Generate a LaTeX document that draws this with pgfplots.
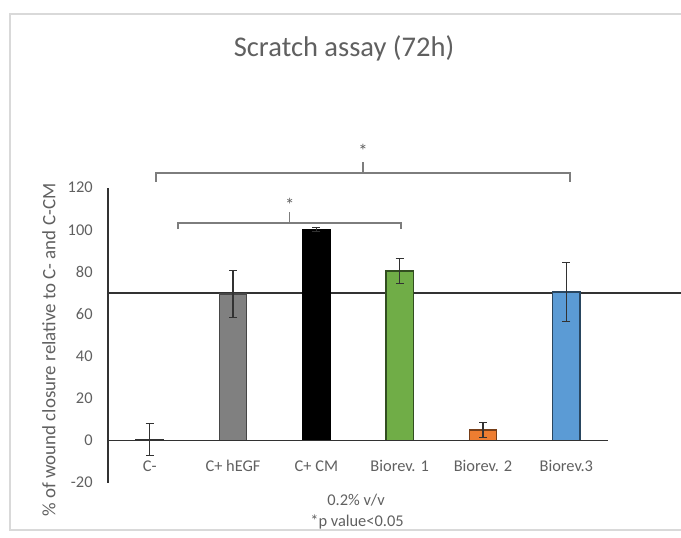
\documentclass[border=0pt]{standalone}
\usepackage{pgfplots}
\pgfplotsset{compat=1.18}
\usepackage{fontspec}
\setmainfont{Carlito}

\definecolor{txt}{RGB}{96,96,96}
\definecolor{frame}{RGB}{217,217,217}
\definecolor{axln}{RGB}{50,50,50}
\definecolor{brk}{RGB}{125,125,125}
\definecolor{cgray}{RGB}{128,128,128}
\definecolor{cgreen}{RGB}{112,173,71}
\definecolor{corange}{RGB}{237,125,49}
\definecolor{cblue}{RGB}{91,155,213}

\begin{document}
\begin{tikzpicture}[x=0.75pt,y=0.75pt]
\useasboundingbox (0,0) rectangle (681,538);
% chart frame
\draw[frame, line width=1.2pt] (10,524) rectangle (720,8);

% title and captions
\node[txt, font=\fontsize{21.4}{25}\selectfont] at (344,490) {Scratch assay (72h)};
\node[txt, font=\fontsize{14.2}{16}\selectfont, rotate=90] at (49,188) {\% of wound closure relative to C- and C-CM};
\node[txt, font=\fontsize{12.3}{14}\selectfont] at (356,38) {0.2\% v/v};
\node[txt, font=\fontsize{12.3}{14}\selectfont] at (357,16) {*p value<0.05};

\begin{axis}[
  at={(81pt,41.55pt)}, anchor=south west,
  scale only axis, width=375pt, height=221.25pt,
  xmin=-0.5, xmax=5.5, ymin=-20, ymax=120,
  clip=false,
  axis y line*=left, axis x line*=bottom,
  x axis line style={draw=none},
  y axis line style={axln, line width=0.9pt},
  xtick={0,...,5},
  xticklabels={C-, C+ hEGF, C+ CM, Biorev. 1, Biorev. 2, Biorev.3},
  ytick={-20,0,...,120},
  major tick length=0pt,
  tick label style={txt, font=\fontsize{12.3}{14}\selectfont},
  /pgf/number format/assume math mode=true,
  yticklabel style={anchor=east, xshift=-8pt},
  xticklabel style={anchor=base, yshift=8.5pt},
  every axis plot/.append style={ybar, bar width=0.33, bar shift=0pt, line width=1.1pt},
  error bars/error bar style={line width=0.8pt, axln},
  error bars/error mark options={rotate=90, mark size=3pt, line width=0.8pt, axln},
]
% reference line across the plot
\draw[axln, line width=0.9pt] (axis cs:-0.5,70) -- (axis cs:6.4,70);

\addplot[fill=none, draw=axln, error bars/.cd, y dir=both, y explicit]
  coordinates {(0,0.5) +- (0,7.5)};
\addplot[fill=cgray, draw=cgray!55!black, error bars/.cd, y dir=both, y explicit]
  coordinates {(1,69.5) +- (0,11)};
\addplot[fill=black, draw=black, error bars/.cd, y dir=both, y explicit]
  coordinates {(2,100) +- (0,1)};
\addplot[fill=cgreen, draw=cgreen!45!black, error bars/.cd, y dir=both, y explicit]
  coordinates {(3,80.5) +- (0,6)};
\addplot[fill=corange, draw=corange!50!black, error bars/.cd, y dir=both, y explicit]
  coordinates {(4,5) +- (0,3.5)};
\addplot[fill=cblue, draw=cblue!45!black, error bars/.cd, y dir=both, y explicit]
  coordinates {(5,70.5) +- (0,14)};

\draw[axln, line width=0.9pt] (axis cs:-0.5,0) -- (axis cs:5.5,0);

% significance brackets
\draw[brk, line width=1pt] (axis cs:0.076,122.8) -- (axis cs:0.076,126.9) -- (axis cs:5.044,126.9) -- (axis cs:5.044,122.8);
\draw[brk, line width=1pt] (axis cs:2.56,126.9) -- (axis cs:2.56,132);
\node[txt, font=\fontsize{14}{16}\selectfont] at (axis cs:2.56,137.5) {*};
\draw[brk, line width=1pt] (axis cs:0.34,100.3) -- (axis cs:0.34,103.2) -- (axis cs:3.016,103.2) -- (axis cs:3.016,100.3);
\draw[brk, line width=1pt] (axis cs:1.68,103.2) -- (axis cs:1.68,108.5);
\node[txt, font=\fontsize{14}{16}\selectfont] at (axis cs:1.68,112) {*};
\end{axis}
\end{tikzpicture}
\end{document}
